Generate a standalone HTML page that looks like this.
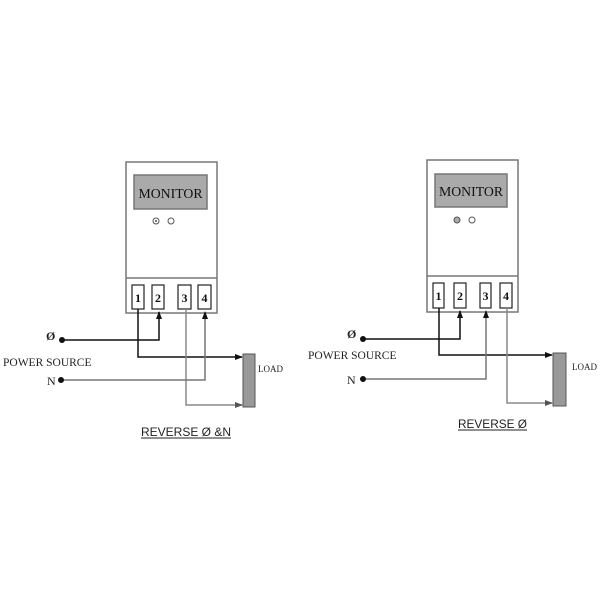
<!DOCTYPE html>
<html><head><style>body{margin:0;background:#fff}svg{display:block}</style></head>
<body>
<svg width="600" height="600" viewBox="0 0 600 600" xmlns="http://www.w3.org/2000/svg" font-family="Liberation Serif, serif">
<defs>
<marker id="ab" markerWidth="8" markerHeight="8" refX="7" refY="4" orient="auto" markerUnits="userSpaceOnUse"><path d="M0,1 L8,4 L0,7 z" fill="#111"/></marker>
<marker id="ag" markerWidth="8" markerHeight="8" refX="7" refY="4" orient="auto" markerUnits="userSpaceOnUse"><path d="M0,1 L8,4 L0,7 z" fill="#555"/></marker>
</defs>
<!-- LEFT -->
<g>
<rect x="126" y="162" width="91" height="151" fill="#fff" stroke="#777" stroke-width="1.5"/>
<line x1="126" y1="278" x2="217" y2="278" stroke="#777" stroke-width="1.5"/>
<rect x="134" y="175" width="73" height="34" fill="#aaa" stroke="#777" stroke-width="1.5"/>
<text x="170.5" y="198" font-size="14" text-anchor="middle" fill="#111" textLength="64" lengthAdjust="spacingAndGlyphs">MONITOR</text>
<circle cx="156" cy="221" r="3" fill="none" stroke="#555"/><circle cx="156" cy="221" r="1" fill="#555"/>
<circle cx="171" cy="221" r="3" fill="none" stroke="#555"/>
<g fill="#fff" stroke="#222" stroke-width="1.2">
<rect x="132" y="285" width="12" height="24"/><rect x="152" y="285" width="12" height="24"/>
<rect x="178" y="285" width="13" height="24"/><rect x="198" y="285" width="13" height="24"/></g>
<g font-size="12" text-anchor="middle" fill="#111" font-weight="bold">
<text x="138" y="302">1</text><text x="158" y="302">2</text><text x="184.5" y="302">3</text><text x="204.5" y="302">4</text></g>
<polyline points="138,309 138,357 242,357" fill="none" stroke="#111" stroke-width="1.5" marker-end="url(#ab)"/>
<polyline points="62,340 159,340 159,312" fill="none" stroke="#111" stroke-width="1.5" marker-end="url(#ab)"/>
<polyline points="186,309 186,405 242,405" fill="none" stroke="#888" stroke-width="1.5" marker-end="url(#ag)"/>
<polyline points="61,380 205,380 205,312" fill="none" stroke="#777" stroke-width="1.5" marker-end="url(#ab)"/>
<circle cx="62" cy="340" r="3" fill="#111"/><circle cx="61" cy="380" r="3" fill="#111"/>
<rect x="243" y="354" width="12" height="53" fill="#999" stroke="#555"/>
<text x="258" y="372" font-size="9" fill="#222">LOAD</text>
<text x="46" y="340" font-size="12" font-weight="bold" fill="#222">Ø</text>
<text x="3" y="366" font-size="11.5" fill="#222">POWER SOURCE</text>
<text x="47" y="385" font-size="12" fill="#222">N</text>
<text x="141" y="436" font-size="12" font-family="Liberation Sans, sans-serif" fill="#222" textLength="90" lengthAdjust="spacingAndGlyphs">REVERSE Ø &amp;N</text>
<line x1="141" y1="438" x2="231" y2="438" stroke="#222"/>
</g>
<!-- RIGHT -->
<g>
<rect x="427" y="160" width="91" height="152" fill="#fff" stroke="#777" stroke-width="1.5"/>
<line x1="427" y1="276" x2="518" y2="276" stroke="#777" stroke-width="1.5"/>
<rect x="435" y="174" width="72" height="33" fill="#aaa" stroke="#777" stroke-width="1.5"/>
<text x="471" y="196" font-size="14" text-anchor="middle" fill="#111" textLength="64" lengthAdjust="spacingAndGlyphs">MONITOR</text>
<circle cx="457" cy="220" r="3" fill="#aaa" stroke="#555"/>
<circle cx="472" cy="220" r="3" fill="none" stroke="#555"/>
<g fill="#fff" stroke="#222" stroke-width="1.2">
<rect x="433" y="283" width="11" height="25"/><rect x="454" y="283" width="12" height="25"/>
<rect x="480" y="283" width="11" height="25"/><rect x="500" y="283" width="12" height="25"/></g>
<g font-size="12" text-anchor="middle" fill="#111" font-weight="bold">
<text x="438.5" y="300">1</text><text x="460" y="300">2</text><text x="485.5" y="300">3</text><text x="506" y="300">4</text></g>
<polyline points="439,308 439,355 552,355" fill="none" stroke="#111" stroke-width="1.5" marker-end="url(#ab)"/>
<polyline points="363,339 460,339 460,311" fill="none" stroke="#111" stroke-width="1.5" marker-end="url(#ab)"/>
<polyline points="363,379 486,379 486,311" fill="none" stroke="#777" stroke-width="1.5" marker-end="url(#ab)"/>
<polyline points="507,308 507,403 552,403" fill="none" stroke="#888" stroke-width="1.5" marker-end="url(#ag)"/>
<circle cx="363" cy="339" r="3" fill="#111"/><circle cx="363" cy="379" r="3" fill="#111"/>
<rect x="553" y="353" width="13" height="53" fill="#999" stroke="#555"/>
<text x="572" y="370" font-size="9" fill="#222">LOAD</text>
<text x="347" y="338" font-size="12" font-weight="bold" fill="#222">Ø</text>
<text x="308" y="359" font-size="11.5" fill="#222">POWER SOURCE</text>
<text x="347" y="384" font-size="12" fill="#222">N</text>
<text x="458" y="428" font-size="12" font-family="Liberation Sans, sans-serif" fill="#222" textLength="69" lengthAdjust="spacingAndGlyphs">REVERSE Ø</text>
<line x1="458" y1="430" x2="527" y2="430" stroke="#222"/>
</g>
</svg>
</body></html>
